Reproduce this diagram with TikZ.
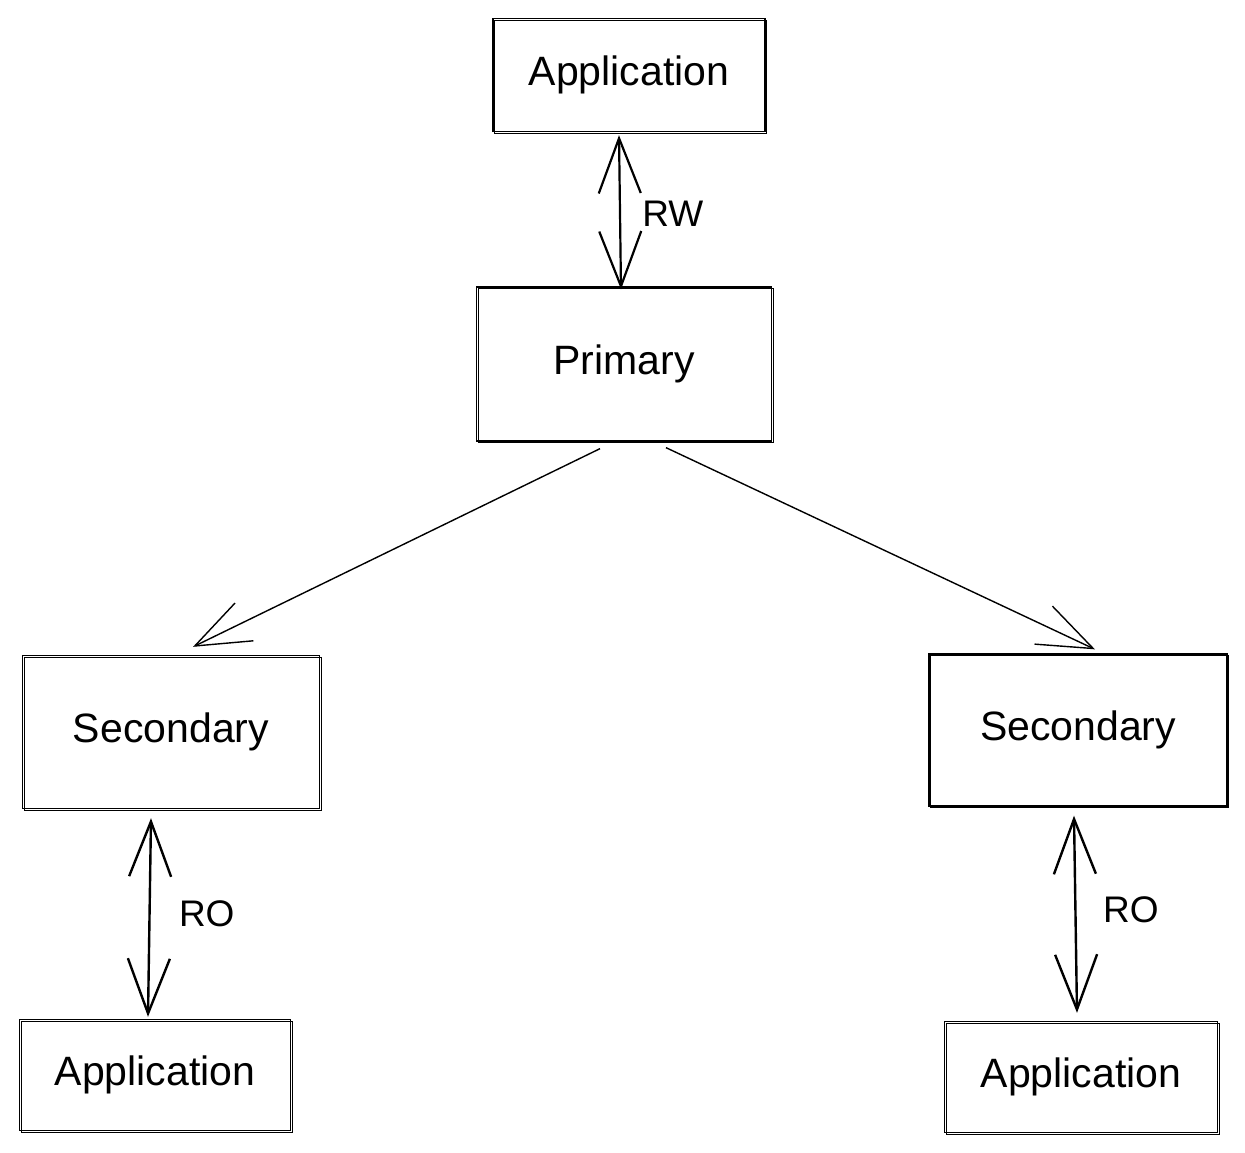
\documentclass[tikz,border=0pt]{standalone}
\usepackage{fontspec}
\setmainfont{Liberation Sans}
\usetikzlibrary{arrows.meta}
\begin{document}
\begin{tikzpicture}[x=1pt,y=-1pt,
  box/.style={draw, line width=1.3pt, rectangle, inner sep=0pt,
    font=\fontsize{41}{44}\selectfont,
    postaction={draw, line width=0.9pt, transform canvas={shift={(1.8pt,-1.6pt)}}}},
  tip/.style={-{Straight Barb[length=55pt,width=42pt]}},
  dtip/.style={{Straight Barb[length=55pt,width=42pt]}-{Straight Barb[length=55pt,width=42pt]}},
  lbl/.style={font=\fontsize{37}{40}\selectfont}]
\useasboundingbox[fill=white] (0,0) rectangle (1245,1153);
\node[box, minimum width=272pt, minimum height=113pt] (app1) at (629,75) {Application};
\node[box, minimum width=295pt, minimum height=154pt] (prim) at (624,364) {Primary};
\node[box, minimum width=297pt, minimum height=153pt] (secl) at (171,732) {Secondary};
\node[box, minimum width=298pt, minimum height=152pt] (secr) at (1078,730) {Secondary};
\node[box, minimum width=271pt, minimum height=111pt] (appl) at (155,1075) {Application};
\node[box, minimum width=273pt, minimum height=111pt] (appr) at (1081,1077) {Application};
% connectors
\draw[dtip, line width=2.2pt] ([xshift=-10pt,yshift=-3pt]app1.south) -- ([xshift=-3pt,yshift=-3pt]prim.north)
  node[lbl, midway, right=18pt, yshift=-2pt] (rw) {RW};
\draw[tip, line width=1.4pt] ([xshift=-24pt,yshift=-7pt]prim.south) -- ([xshift=22pt,yshift=8pt]secl.north);
\draw[tip, line width=1.4pt] ([xshift=42pt,yshift=-6pt]prim.south) -- ([xshift=17pt,yshift=4pt]secr.north);
\draw[dtip, line width=2.4pt] ([xshift=-20pt,yshift=-9pt]secl.south) -- ([xshift=-7pt,yshift=2pt]appl.north)
  node[lbl, midway, right=25pt, yshift=4pt] (rol) {RO};
\draw[dtip, line width=2.4pt] ([xshift=-4pt,yshift=-9pt]secr.south) -- ([xshift=-4pt,yshift=8pt]appr.north)
  node[lbl, midway, right=23pt, yshift=4pt] (ror) {RO};
\end{tikzpicture}
\end{document}
